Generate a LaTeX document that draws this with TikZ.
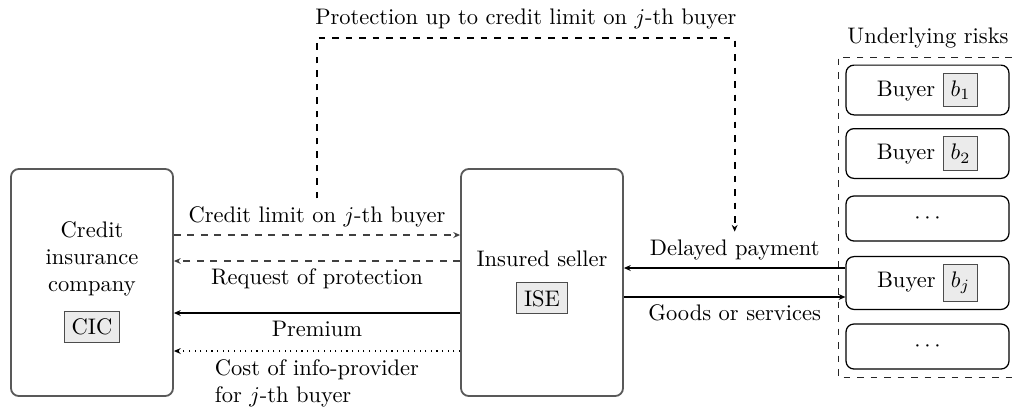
\documentclass[tikz,border=0pt]{standalone}
\usetikzlibrary{arrows.meta,calc}
\newcommand{\tagbox}[1]{{\setlength{\fboxsep}{3pt}\setlength{\fboxrule}{0.5pt}\fcolorbox{black!70}{black!8}{#1}}}
\begin{document}
\begin{tikzpicture}[x=0.4444pt,y=-0.4444pt,
  party/.style={draw=black!65,line width=0.8pt,rounded corners=3.5pt,
    minimum width=72pt,minimum height=100.9pt,align=center},
  buyerbox/.style={draw=black,line width=0.55pt,rounded corners=3.5pt,
    minimum width=72.4pt,minimum height=20pt},
  flow/.style={line width=0.5pt,-{Stealth[length=3pt,width=2.6pt]}},
  softdash/.style={flow,draw=black!75,dashed},
  lbl/.style={font=\normalsize}]
\useasboundingbox (0,0) rectangle (1012,408);

% the two parties
\node[party] (cic) at (92,282.5) {Credit\\insurance\\company\\[2mm]\tagbox{CIC}};
\node[party] (ise) at (542,282.5) {Insured seller\\[2mm]\tagbox{ISE}};

% portfolio of buyers (frame runs off the right edge)
\draw[dashed,line width=0.45pt,draw=black!85] (1012,57) -- (838,57) -- (838,377) -- (1012,377);
\node[anchor=base] (risks) at (928,43) {Underlying risks};
\node[buyerbox] (b1) at (927.5,90) {Buyer \tagbox{$b_1$}};
\node[buyerbox] (b2) at (927.5,153.5) {Buyer \tagbox{$b_2$}};
\node[buyerbox] (d1) at (927.5,218.5) {$\cdots$};
\node[buyerbox] (bj) at (927.5,283) {Buyer \tagbox{$b_j$}};
\node[buyerbox] (d2) at (927.5,346.5) {$\cdots$};

% flow levels
\coordinate (yA) at (0,235);
\coordinate (yB) at (0,261);
\coordinate (yC) at (0,313);
\coordinate (yD) at (0,351);
\coordinate (yE) at (0,268);
\coordinate (yF) at (0,297);
\coordinate (yTop) at (0,38);

\draw[softdash] (cic.east |- yA) -- node[above] (cl) {Credit limit on $j$-th buyer} (ise.west |- yA);
\draw[softdash] (ise.west |- yB) -- node[below] {Request of protection} (cic.east |- yB);
\draw[flow] (ise.west |- yC) -- node[below] {Premium} (cic.east |- yC);
\draw[flow,dotted,line width=0.65pt] (ise.west |- yD) -- node[below,align=left] {Cost of info-provider\\for $j$-th buyer} (cic.east |- yD);

\draw[flow] (bj.west |- yE) -- node[above] (dl) {Delayed payment} (ise.east |- yE);
\draw[flow] (ise.east |- yF) -- node[below] {Goods or services} (bj.west |- yF);

% protection granted by the insurer
\draw[flow,dashed,line width=0.8pt] (cl.north) -- (cl.north |- yTop)
  -- node[above] {Protection up to credit limit on $j$-th buyer} (dl.north |- yTop)
  -- (dl.north);
\end{tikzpicture}
\end{document}
